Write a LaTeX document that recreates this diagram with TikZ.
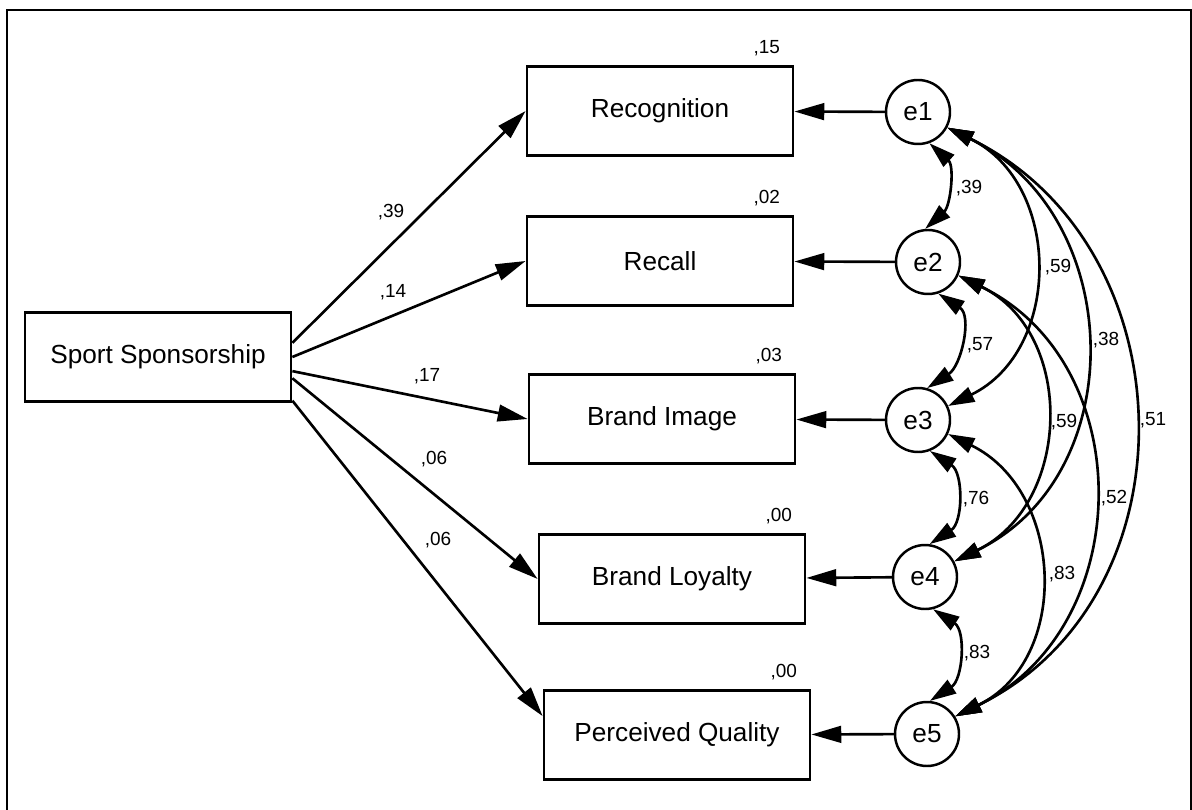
\documentclass[tikz,border=0pt]{standalone}
\usepackage{fontspec}
\setmainfont{Liberation Sans}
\usepackage{tikz}
\usetikzlibrary{arrows.meta,positioning,calc}

\begin{document}
\begin{tikzpicture}[x=0.02cm, y=-0.02cm,
  varbox/.style={draw, line width=1.6pt, minimum width=5.32cm, minimum height=1.78cm,
    inner sep=0pt, font=\fontsize{14.9}{17}\selectfont},
  errnode/.style={draw, circle, line width=1.4pt, minimum size=1.28cm, inner sep=0pt,
    font=\fontsize{14.9}{17}\selectfont},
  wt/.style={inner sep=0pt, font=\fontsize{10.8}{12}\selectfont},
  varlbl/.style={wt, anchor=base east},
  regarrow/.style={-{Triangle[length=17pt, width=9.5pt]}, line width=1.5pt},
  covarrow/.style={{Triangle[length=15pt, width=9pt]}-{Triangle[length=15pt, width=9pt]}, line width=1.5pt},
  shortcov/.style={covarrow, out=-33, in=33, looseness=1.1},
  longcov/.style={covarrow, out=-26, in=26, looseness=1.17}]

\useasboundingbox (0,0) rectangle (1192,810);

% Frame
\draw[line width=1.3pt] (7,812) -- (7,10) -- (1191,10) -- (1191,812);

% Exogenous variable
\node[varbox] (sport) at (158,357) {Sport Sponsorship};

% Observed outcomes
\node[varbox] (recog) at (660,111) {Recognition};
\node[varbox] (recall) at (660,261) {Recall};
\node[varbox] (image) at (662,419) {Brand Image};
\node[varbox] (loyal) at (672,579) {Brand Loyalty};
\node[varbox] (quality) at (677,735) {Perceived Quality};

% Squared multiple correlations
\node[varlbl] at ($(recog.north east)+(-14,-12)$) {,15};
\node[varlbl] at ($(recall.north east)+(-14,-12)$) {,02};
\node[varlbl] at ($(image.north east)+(-14,-12)$) {,03};
\node[varlbl] at ($(loyal.north east)+(-14,-12)$) {,00};
\node[varlbl] at ($(quality.north east)+(-14,-12)$) {,00};

% Error terms
\node[errnode] (e1) at (918,112) {e1};
\node[errnode] (e2) at (928,262) {e2};
\node[errnode] (e3) at (918,420) {e3};
\node[errnode] (e4) at (925,577) {e4};
\node[errnode] (e5) at (927,734) {e5};

% Regression paths
\draw[regarrow] (sport.6) -- (recog.west);
\draw[regarrow] (sport.east) -- (recall.west);
\draw[regarrow] (sport.-6) -- (image.west);
\draw[regarrow] (sport.-9) -- (loyal.west);
\draw[regarrow] (sport.-18) -- (quality.172);

\node[wt] at (391,212) {,39};
\node[wt] at (393,292) {,14};
\node[wt] at (427,376) {,17};
\node[wt] at (434,459) {,06};
\node[wt] at (438,540) {,06};

% Error paths
\draw[regarrow] (e1) -- (recog);
\draw[regarrow] (e2) -- (recall);
\draw[regarrow] (e3) -- (image);
\draw[regarrow] (e4) -- (loyal);
\draw[regarrow] (e5) -- (quality);

% Error covariances, neighbours
\draw[covarrow, out=-42, in=42, looseness=1.02] (e1.-70) to (e2.95);
\draw[shortcov] (e2.-72) to (e3.74);
\draw[shortcov] (e3.-69) to (e4.82);
\draw[shortcov] (e4.-76) to (e5.85);

\node[wt] at (969,188) {,39};
\node[wt] at (980,345) {,57};
\node[wt] at (976,499) {,76};
\node[wt] at (977,653) {,83};

% Error covariances, long arcs
\draw[longcov] (e1.-28) to (e3.25);
\draw[longcov] (e1.-28) to (e4.28);
\draw[longcov] (e1.-28) to (e5.32);
\draw[longcov] (e2.-24) to (e4.28);
\draw[longcov] (e2.-24) to (e5.32);
\draw[longcov] (e3.-25) to (e5.32);

\node[wt] at (1058,267) {,59};
\node[wt] at (1106,340) {,38};
\node[wt] at (1153,420) {,51};
\node[wt] at (1064,422) {,59};
\node[wt] at (1114,498) {,52};
\node[wt] at (1062,574) {,83};

\end{tikzpicture}
\end{document}
